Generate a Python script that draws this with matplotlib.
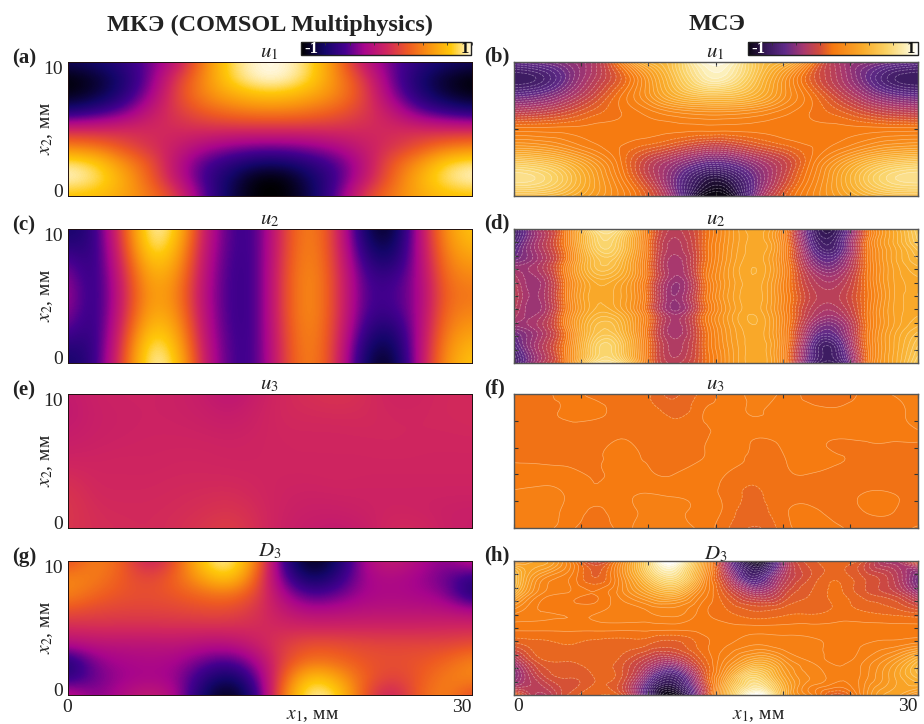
import numpy as np
import matplotlib
matplotlib.use('Agg')
import matplotlib.pyplot as plt
import matplotlib.tri as mtri
from matplotlib.cm import ScalarMappable
from matplotlib.colors import LinearSegmentedColormap, Normalize
from matplotlib.transforms import ScaledTranslation

plt.rcParams['font.family'] = ['Liberation Serif', 'DejaVu Serif']
plt.rcParams['mathtext.fontset'] = 'stix'

# сетка считывания: x1 через 2 мм, x2 сверху вниз через 1.25 мм
x1_values = [0, 2, 4, 6, 8, 10, 12, 14, 16, 18, 20, 22, 24, 26, 28, 30]
x2_values = [10, 8.75, 7.5, 6.25, 5, 3.75, 2.5, 1.25, 0]

u1_fem = [
    [-.75, -.7, -.6, -.4, -.15, .4, .85, 1, 1, .85, .4, -.15, -.4, -.6, -.7, -.75],
    [-1, -.9, -.7, -.4, .1, .45, .82, 1, 1, .82, .45, .1, -.4, -.7, -.9, -1],
    [-.95, -.85, -.65, -.3, .15, .45, .6, .72, .72, .6, .45, .15, -.3, -.65, -.85, -.95],
    [-.65, -.55, -.4, -.1, .1, .25, .35, .4, .4, .35, .25, .1, -.1, -.4, -.55, -.65],
    [0, 0, .02, .02, .02, .05, .05, .05, .05, .05, .05, .02, .02, .02, 0, 0],
    [.4, .35, .2, .05, -.05, -.2, -.3, -.35, -.35, -.3, -.2, -.05, .05, .2, .35, .4],
    [.9, .82, .5, .25, -.15, -.45, -.6, -.72, -.72, -.6, -.45, -.15, .25, .5, .82, .9],
    [1, .9, .65, .3, -.1, -.5, -.75, -1, -1, -.75, -.5, -.1, .3, .65, .9, 1],
    [.7, .7, .6, .4, .15, -.4, -.8, -1, -1, -.8, -.4, .15, .4, .6, .7, .7],
]
u1_bem = [
    [-.55, -.5, -.42, -.3, .05, .4, .55, .9, .9, .55, .4, .05, -.3, -.42, -.5, -.55],
    [-.76, -.7, -.5, -.28, -.08, .2, .5, .78, .78, .5, .2, -.08, -.28, -.5, -.7, -.76],
    [-.55, -.5, -.36, -.18, 0, .18, .38, .48, .48, .38, .18, 0, -.18, -.36, -.5, -.55],
    [-.25, -.22, -.15, -.06, 0, .06, .12, .15, .15, .12, .06, 0, -.06, -.15, -.22, -.25],
    [.015, .015, .015, .015, .015, .015, .015, .015, .015, .015, .015, .015, .015, .015, .015, .015],
    [.2, .18, .12, .05, 0, -.05, -.12, -.2, -.2, -.12, -.05, 0, .05, .12, .18, .2],
    [.55, .5, .38, .2, 0, -.22, -.38, -.52, -.52, -.38, -.22, 0, .2, .38, .5, .55],
    [.75, .7, .52, .28, .05, -.2, -.5, -.8, -.8, -.5, -.2, .05, .28, .52, .7, .75],
    [.45, .45, .38, .25, .1, -.1, -.45, -1, -1, -.45, -.1, .1, .25, .38, .45, .45],
]
u2_fem = [
    [-.72, -.6, .15, 1, .85, -.05, -.5, -.52, .15, .5, .05, -.8, -.95, -.2, .55, .75],
    [-.62, -.62, .1, .95, .75, -.08, -.5, -.52, .16, .51, .06, -.72, -.85, -.22, .5, .68],
    [-.42, -.64, .04, .78, .65, -.12, -.52, -.52, .18, .53, .08, -.6, -.72, -.25, .44, .55],
    [-.3, -.65, -.02, .65, .55, -.15, -.53, -.52, .2, .55, .1, -.52, -.55, -.28, .38, .45],
    [-.25, -.65, -.05, .6, .5, -.17, -.53, -.52, .2, .55, .1, -.5, -.5, -.3, .35, .38],
    [-.3, -.65, -.02, .65, .55, -.15, -.53, -.52, .2, .55, .1, -.52, -.55, -.28, .38, .45],
    [-.42, -.64, .04, .78, .65, -.12, -.52, -.52, .18, .53, .08, -.6, -.72, -.25, .44, .55],
    [-.62, -.62, .1, .95, .75, -.08, -.5, -.52, .16, .51, .06, -.72, -.85, -.22, .5, .68],
    [-.72, -.6, .15, 1, .85, -.05, -.5, -.52, .15, .5, .05, -.8, -.95, -.2, .55, .75],
]
u2_bem = [
    [-.72, -.3, .05, .7, .65, 0, -.25, -.08, .2, .35, .1, -.6, -.75, -.1, .3, .6],
    [-.62, -.3, .05, .58, .52, -.01, -.3, -.08, .21, .35, .1, -.52, -.65, -.08, .29, .52],
    [-.45, -.32, .04, .48, .42, -.03, -.35, -.08, .23, .35, .1, -.38, -.48, -.07, .27, .42],
    [-.28, -.35, .04, .38, .32, -.04, -.38, -.08, .24, .35, .1, -.25, -.32, -.05, .26, .35],
    [-.22, -.35, .04, .35, .28, -.05, -.4, -.08, .25, .35, .1, -.2, -.25, -.05, .25, .32],
    [-.28, -.35, .04, .38, .32, -.04, -.38, -.08, .24, .35, .1, -.25, -.32, -.05, .26, .35],
    [-.45, -.32, .04, .48, .42, -.03, -.35, -.08, .23, .35, .1, -.38, -.48, -.07, .27, .42],
    [-.62, -.3, .05, .58, .52, -.01, -.3, -.08, .21, .35, .1, -.52, -.65, -.08, .29, .52],
    [-.72, -.3, .05, .7, .65, 0, -.25, -.08, .2, .35, .1, -.6, -.75, -.1, .3, .6],
]
u3_fem = [
    [-.08, -.03, -.02, -.02, -.03, -.06, -.14, -.05, .02, .05, .08, .04, -.02, -.01, .02, .01],
    [-.1, -.04, -.03, -.02, -.03, -.05, -.09, -.03, .02, .03, .04, .03, 0, 0, .02, .02],
    [-.08, -.04, -.03, -.02, -.02, -.03, -.05, -.02, .01, .01, .01, .02, .01, .01, .01, .02],
    [-.05, -.03, -.02, -.01, -.01, -.01, -.02, -.01, 0, 0, 0, 0, .01, 0, 0, 0],
    [-.01, -.01, 0, -.01, 0, 0, -.01, -.01, 0, 0, 0, 0, 0, 0, 0, 0],
    [.04, 0, 0, 0, .01, .01, .01, 0, -.01, -.01, 0, -.01, -.01, -.01, -.01, -.01],
    [.08, .01, .01, .01, .02, .03, .04, .01, -.02, -.03, -.02, -.02, -.02, -.02, -.02, -.02],
    [.09, .03, .02, .02, .03, .05, .08, .03, -.03, -.05, -.05, -.03, -.01, -.02, -.04, -.05],
    [.08, .04, .03, .02, .04, .08, .13, .04, -.04, -.07, -.09, -.06, .02, .02, -.04, -.05],
]
u3_bem = [
    [-.02, -.02, .02, -.02, -.02, -.03, -.09, -.03, .02, .05, .03, -.01, -.02, .01, .04, .05],
    [-.02, -.01, .01, .02, -.02, -.02, -.06, -.005, .02, .045, .02, .01, .005, .02, .03, .05],
    [-.02, -.005, -.01, -.02, -.02, -.02, -.02, -.005, .015, .02, .02, .02, .02, .02, .02, .045],
    [-.02, -.02, -.02, -.015, .005, -.015, -.02, -.003, .01, -.003, .003, .01, -.005, -.003, -.003, -.005],
    [-.002, -.005, -.01, -.005, .005, -.003, -.01, .002, .01, -.008, -.002, .008, .003, -.01, -.02, -.015],
    [.02, .025, .02, -.002, .015, .01, .005, .02, -.01, -.03, -.01, -.005, -.02, -.02, -.025, -.02],
    [.045, .05, .035, .005, .025, .042, .035, .025, -.02, -.045, -.015, -.02, -.02, .002, .003, -.02],
    [.05, .05, .03, -.005, .022, .045, .045, .03, -.02, -.06, -.01, .01, -.01, 0, .002, -.015],
    [.075, .05, .02, -.035, .02, .05, .05, .03, -.04, -.085, -.02, .01, .005, -.01, -.015, .005],
]
d3_fem = [
    [.15, .45, .3, -.1, .2, .82, 1, .45, -.6, -1, -.75, -.2, -.05, -.2, -.35, -.1],
    [.45, .42, .25, .14, .3, .6, .82, .28, -.45, -.8, -.6, -.25, -.2, -.28, -.4, -.6],
    [.45, .3, .22, .2, .24, .32, .37, .17, -.25, -.5, -.4, -.25, -.22, -.25, -.32, -.7],
    [.2, .16, .14, .14, .15, .18, .18, .07, -.1, -.2, -.18, -.15, -.15, -.15, -.15, -.2],
    [.02, .04, .04, .04, .04, .04, .04, .03, .01, 0, 0, 0, 0, 0, .01, .02],
    [-.2, -.15, -.15, -.15, -.13, -.18, -.18, -.05, .12, .22, .2, .17, .16, .16, .16, .2],
    [-.7, -.33, -.25, -.22, -.25, -.4, -.5, -.25, .17, .37, .32, .22, .2, .22, .3, .45],
    [-.6, -.4, -.28, -.25, -.28, -.6, -.8, -.45, .3, .82, .6, .27, .12, .24, .42, .45],
    [-.1, -.35, -.2, -.05, -.2, -.75, -1, -.6, .45, 1, .85, .2, -.1, .3, .45, .15],
]
d3_bem = [
    [.15, .3, .1, -.2, .1, .65, 1, .3, -.45, -1, -.4, -.1, -.05, -.12, -.35, -.05],
    [.5, .15, .05, -.08, .12, .5, .7, .2, -.3, -.65, -.3, -.12, -.05, -.12, -.22, -.5],
    [.35, .08, .03, 0, .1, .25, .32, .08, -.12, -.3, -.18, -.08, -.03, -.1, -.16, -.35],
    [.1, .04, .03, .03, .06, .08, .1, .02, -.04, -.08, -.06, -.05, -.03, -.04, -.06, -.1],
    [.015, .015, .015, .015, .015, .015, .015, .015, .015, .015, .015, .015, .015, .015, .015, .015],
    [-.1, -.05, -.04, -.05, -.06, -.08, -.1, -.02, .04, .08, .06, .05, .03, .04, .06, .1],
    [-.35, -.1, -.08, -.05, -.1, -.25, -.32, -.08, .12, .3, .18, .08, .03, .08, .2, .4],
    [-.45, -.2, -.12, -.08, -.12, -.5, -.7, -.2, .3, .65, .3, .12, .05, .1, .25, .4],
    [-.05, -.3, -.12, -.05, -.1, -.65, -1, -.3, .45, 1, .4, .1, -.1, .12, .3, .15],
]

fem_panels = [u1_fem, u2_fem, u3_fem, d3_fem]
bem_panels = [u1_bem, u2_bem, u3_bem, d3_bem]
titles = ['$u_1$', '$u_2$', '$u_3$', '$D_3$']
letters_left = ['(a)', '(c)', '(e)', '(g)']
letters_right = ['(b)', '(d)', '(f)', '(h)']
heading_left = 'МКЭ (COMSOL Multiphysics)'
heading_right = 'МСЭ'

fem_cmap = LinearSegmentedColormap.from_list('fem', [
    (0, '#000000'), (.14, '#14066a'), (.26, '#45008f'), (.37, '#a8058c'),
    (.5, '#cf2560'), (.63, '#ee5a22'), (.75, '#f99210'), (.88, '#ffc80a'), (1, '#fff8e0')])
bem_cmap = LinearSegmentedColormap.from_list('bem', [
    (0, '#0a0512'), (.12, '#3a1a5e'), (.22, '#5f2a88'), (.33, '#a8386e'),
    (.42, '#d04a3c'), (.5, '#f67810'), (.68, '#f9ab2a'), (.82, '#fad264'), (.93, '#fcefb8'), (1, '#ffffff')])
norm = Normalize(-1, 1)
levels = np.linspace(-1, 1, 51)

W, H = 924, 724
fig = plt.figure(figsize=(W / 100, H / 100), dpi=100)


def pixel_axes(left, top, right, bottom):
    return fig.add_axes([left / W, 1 - bottom / H, (right - left) / W, (bottom - top) / H])


rows = [(62, 196), (229, 363), (394, 528), (561, 695)]
right_yticks = [[5], np.arange(1, 10), np.arange(2, 10, 2), np.arange(1, 10)]

grid_x, grid_y = np.meshgrid(x1_values, x2_values)
tri = mtri.Triangulation(grid_x.ravel(), grid_y.ravel())

for i, (top, bottom) in enumerate(rows):
    # левая колонка - гладкая картинка
    ax = pixel_axes(67.5, top, 471.5, bottom)
    ax.imshow(np.array(fem_panels[i]), cmap=fem_cmap, norm=norm, aspect='auto', interpolation='bicubic',
              extent=(-1, 31, -.625, 10.625))
    ax.set_xlim(0, 30)
    ax.set_ylim(0, 10)
    ax.set_yticks([0, 10], ['0', '10'], fontsize=14, color='#222222')
    ax.tick_params(length=0, pad=3)
    zero_label, ten_label = ax.get_yticklabels()
    zero_label.set_va('bottom')
    ten_label.set_va('top')
    zero_label.set_transform(zero_label.get_transform() + ScaledTranslation(0, -.05, fig.dpi_scale_trans))
    ten_label.set_transform(ten_label.get_transform() + ScaledTranslation(0, .01, fig.dpi_scale_trans))
    ax.set_xticks([0, 30] if i == 3 else [])
    if i == 3:
        ax.set_xticklabels(['0', '30'], fontsize=14, color='#222222')
        ax.get_xticklabels()[1].set_ha('right')
        ax.text(18.2, -1.5, '$x_1$, мм', ha='center', va='center', fontsize=14, color='#222222')
    ax.set_ylabel('$x_2$, мм', fontsize=14, labelpad=-8, color='#222222')
    ax.set_title(titles[i], fontsize=15, pad=1, color='#222222')
    for s in ax.spines.values():
        s.set_linewidth(.7)
        s.set_color('#201010')
    fig.text(12 / W, 1 - (top - 4) / H, letters_left[i], fontsize=15, fontweight='bold', va='center', color='#222222')

    # правая колонка - изолинии
    ax = pixel_axes(513.5, top, 917.5, bottom)
    values = np.array(bem_panels[i]).ravel()
    refiner = mtri.UniformTriRefiner(tri)
    fine_tri, fine_z = refiner.refine_field(values, mtri.CubicTriInterpolator(tri, values), subdiv=3)
    ax.tricontourf(fine_tri, fine_z, levels=levels, cmap=bem_cmap, norm=norm, extend='both')
    ax.tricontour(fine_tri, fine_z, levels=levels, colors='white', linewidths=.5, alpha=.4)
    ax.set_xlim(0, 30)
    ax.set_ylim(0, 10)
    ax.set_xticks(np.arange(0, 31, 5))
    ax.set_yticks(right_yticks[i])
    ax.tick_params(direction='in', length=3, width=.8, top=True, right=True, labelleft=False,
                   labelbottom=False, color='#333333')
    if i == 3:
        ax.set_xticks([0, 5, 10, 15, 20, 25, 30], ['0', '', '', '', '', '', '30'])
        ax.tick_params(labelbottom=True, labelsize=14, labelcolor='#222222', pad=2)
        ax.get_xticklabels()[0].set_ha('left')
        ax.get_xticklabels()[-1].set_ha('right')
        ax.text(18.2, -1.5, '$x_1$, мм', ha='center', va='center', fontsize=14, color='#222222')
    ax.set_title(titles[i], fontsize=15, pad=1, color='#222222')
    for s in ax.spines.values():
        s.set_linewidth(1)
        s.set_color('#555555')
    fig.text(484 / W, 1 - (top - 6) / H, letters_right[i], fontsize=15, fontweight='bold', va='center', color='#222222')

fig.text(270 / W, 1 - 25 / H, heading_left, fontsize=17.5, fontweight='bold', ha='center', va='center', color='#222222')
fig.text(717 / W, 1 - 25 / H, heading_right, fontsize=17.5, fontweight='bold', ha='center', va='center', color='#222222')

# цветовые шкалы
for (left, right, cmap) in [(301, 471.5, fem_cmap), (747.5, 917.5, bem_cmap)]:
    cax = pixel_axes(left, 41.5, right, 54.5)
    cb = fig.colorbar(ScalarMappable(norm=norm, cmap=cmap), cax=cax, orientation='horizontal')
    cb.set_ticks(np.linspace(-1, 1, 8))
    cax.tick_params(axis='x', direction='in', length=2, width=.6, top=True, bottom=False,
                    labelbottom=False, color='#333333')
    cb.outline.set_linewidth(1)
    cb.outline.set_edgecolor('#222222')
    cax.text(.02, .45, '-1', color='white', fontsize=12, fontweight='bold', va='center', ha='left', transform=cax.transAxes)
    cax.text(.985, .45, '1', color='#111111', fontsize=12, fontweight='bold', va='center', ha='right', transform=cax.transAxes)

fig.savefig('out.png', dpi=100)
